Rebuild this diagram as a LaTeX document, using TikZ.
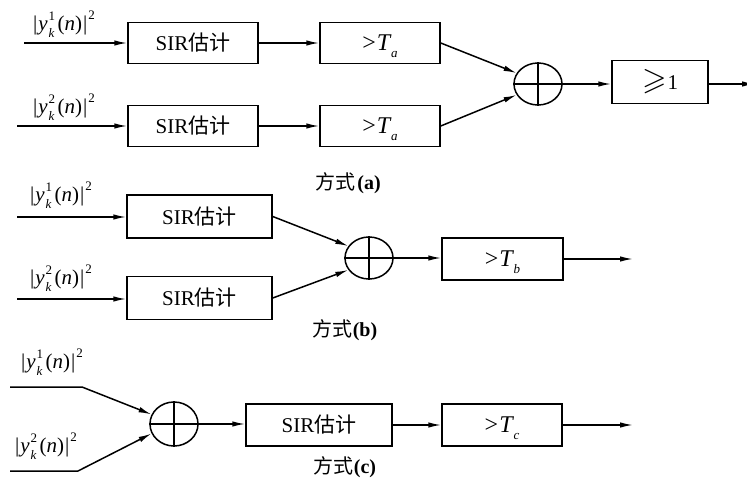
\documentclass[tikz,border=0pt]{standalone}
\usepackage{amssymb}
\usepackage{fontspec}
\setmainfont{Liberation Serif}
\newfontfamily\cjk{Noto Sans CJK SC}
\usetikzlibrary{shapes.geometric,arrows.meta}
% small script text and the signal-power label |y_k^i(n)|^2 set in text mode
\newcommand{\scr}[1]{{\fontsize{13}{12}\selectfont #1}}
\newcommand{\ysig}[1]{|\kern1pt\textit{y}\kern1pt\rlap{\raisebox{0.5em}{\scr{#1}}}\raisebox{-0.3em}{\scr{\textit{k}}}\kern3pt(\textit{n})\kern1pt|\kern1pt\raisebox{0.55em}{\scr{2}}}
\newcommand{\thr}[1]{{\fontsize{24}{26}\selectfont >\kern1pt\textit{T}\kern-0.5pt\raisebox{-0.28em}[0pt][0pt]{\scr{\textit{#1}}}}}
\begin{document}
\begin{tikzpicture}[x=1pt,y=-1pt,
  line width=1.5pt,
  arr/.style={-{Latex[length=13pt,width=5.5pt]}},
  blk/.style={draw, rectangle, inner sep=0pt, minimum height=41pt,
    font=\fontsize{21}{24}\selectfont},
  sumnode/.style={draw, ellipse, inner sep=0pt, minimum width=48pt, minimum height=42pt},
  sig/.style={inner sep=0pt, font=\fontsize{21}{22}\selectfont},
  captext/.style={inner sep=0pt, font=\fontsize{20}{22}\selectfont}]
\useasboundingbox (0,0) rectangle (747,492);

% ---- scheme (a): per-branch thresholds, then combine
\node[sig] (la1) at (64,24) {\ysig{1}};
\node[sig] (la2) at (64,107) {\ysig{2}};
\coordinate (ia1) at (24,43);
\coordinate (ia2) at (17,126);
\node[blk, minimum width=130pt] (sa1) at (193,43) {SIR{\cjk 估计}};
\node[blk, minimum width=130pt] (sa2) at (193,126) {SIR{\cjk 估计}};
\node[blk, minimum width=120pt] (ta1) at (380,43) {\thr{a}};
\node[blk, minimum width=120pt] (ta2) at (380,126) {\thr{a}};
\node[sumnode] (ca) at (538,84) {};
\draw (ca.north) -- (ca.south) (ca.west) -- (ca.east);
\node[blk, minimum width=96pt, minimum height=43pt] (ga) at (660,82) {\scalebox{1.5}{$\geqslant$}\kern1pt1};
\coordinate (oa) at (755,84);
\draw[arr] (ia1) -- (sa1);
\draw[arr] (ia2) -- (sa2);
\draw[arr] (sa1) -- (ta1);
\draw[arr] (sa2) -- (ta2);
\draw[arr] (ta1.east) -- (ca.153);
\draw[arr] (ta2.east) -- (ca.207);
\draw[arr] (ca.east) -- (ga.west |- ca.east);
\draw[arr] (ga.east |- oa) -- (oa);
\node[captext] (capa) at (348,183) {{\cjk 方式}\kern2pt\textbf{(a)}};

% ---- scheme (b): combine estimates, then one threshold
\node[sig] (lb1) at (61,195) {\ysig{1}};
\node[sig] (lb2) at (61,278) {\ysig{2}};
\coordinate (ib1) at (17,217);
\coordinate (ib2) at (17,299);
\node[blk, minimum width=145pt, minimum height=43pt] (sb1) at (199.5,216.5) {SIR{\cjk 估计}};
\node[blk, minimum width=145pt, minimum height=43pt] (sb2) at (199.5,298) {SIR{\cjk 估计}};
\node[sumnode] (cb) at (369,258) {};
\draw (cb.north) -- (cb.south) (cb.west) -- (cb.east);
\node[blk, minimum width=121pt, minimum height=42pt] (tb) at (502.5,259) {\thr{b}};
\coordinate (ob) at (633,259);
\draw[arr] (ib1) -- (ib1 -| sb1.west);
\draw[arr] (ib2) -- (ib2 -| sb2.west);
\draw[arr] (sb1.east) -- (cb.150);
\draw[arr] (sb2.east) -- (cb.210);
\draw[arr] (cb.east) -- (tb.west |- cb.east);
\draw[arr] (tb.east) -- (ob);
\node[captext] (capb) at (345,330) {{\cjk 方式}\textbf{(b)}};

% ---- scheme (c): combine signals, then estimate and threshold
\node[sig] (lc1) at (52,362) {\ysig{1}};
\node[sig] (lc2) at (46,446) {\ysig{2}};
\coordinate (ic1) at (10,387);
\coordinate (kc1) at (82,387);
\coordinate (ic2) at (10,471);
\coordinate (kc2) at (78,471);
\node[sumnode, minimum height=44pt] (cc) at (174,424) {};
\draw (cc.north) -- (cc.south) (cc.west) -- (cc.east);
\node[blk, minimum width=146pt, minimum height=42pt] (sc) at (319,425) {SIR{\cjk 估计}};
\node[blk, minimum width=120pt, minimum height=42pt] (tc) at (502,425) {\thr{c}};
\coordinate (oc) at (633,425);
\draw[arr] (ic1) -- (kc1) -- (cc.157);
\draw[arr] (ic2) -- (kc2) -- (cc.203);
\draw[arr] (cc.east) -- (sc.west |- cc.east);
\draw[arr] (sc) -- (tc);
\draw[arr] (tc.east) -- (oc);
\node[captext] (capc) at (345,467) {{\cjk 方式}\textbf{(c)}};
\end{tikzpicture}
\end{document}
